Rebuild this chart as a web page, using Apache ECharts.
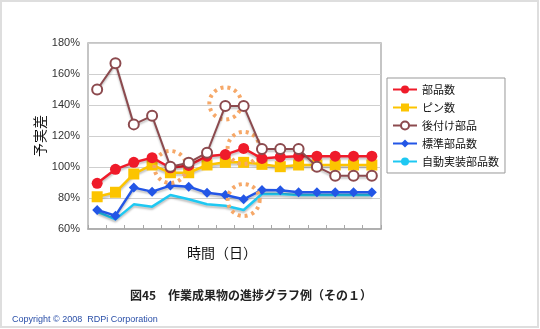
<!DOCTYPE html>
<html><head><meta charset="utf-8">
<script src="https://cdn.jsdelivr.net/npm/echarts@6/dist/echarts.min.js"></script>
<style>html,body{margin:0;padding:0;background:#fff}#c{width:540px;height:329px}</style>
</head><body><div id="c"></div>
<script>
const categories = ['1','2','3','4','5','6','7','8','9','10','11','12','13','14','15','16'];
const partsCount   = [89.5, 98.5, 103, 106, 99.5, 101, 107, 108, 112, 105.5, 106.5, 107, 107, 107, 107, 107];
const pinCount     = [80.8, 83.7, 95.5, 101.3, 96.3, 96.3, 101.3, 103, 103, 101.7, 100.2, 101.3, 101.3, 101.3, 101.3, 101.3];
const retrofit     = [150, 167, 127.5, 133, 100.2, 102.8, 109.2, 139.4, 139.4, 111.6, 111.6, 111.6, 100.2, 94.4, 94.4, 94.4];
const standard     = [72.3, 68.6, 86.7, 84.1, 88, 87.3, 83.4, 81.9, 79.2, 85.2, 85, 83.7, 83.7, 83.7, 83.7, 83.7];
const autoMount    = [71.2, 66.2, 75.9, 74.4, 81.9, 79.2, 76, 75, 72.3, 82.6, 82.6, 81.9, 81.9, 81.9, 81.9, 81.9];
const seriesNames  = ['部品数','ピン数','後付け部品','標準部品数','自動実装部品数'];
const yTicks       = [60, 80, 100, 120, 140, 160, 180];
const highlightIdx = [4, 7, 8, 8];
const highlightVal = [100, 141, 112.3, 78.7];

const chart = echarts.init(document.getElementById('c'));
const shadow = {shadowColor:'rgba(0,0,0,0.25)', shadowOffsetY:2, shadowBlur:2};
const marks = highlightIdx.map((i,k)=>({coord:[i, highlightVal[k]]}));
chart.setOption({
  animation:false,
  backgroundColor:'#fff',
  graphic:[{type:'rect', shape:{x:1,y:1,width:537,height:326}, style:{fill:'none', stroke:'#dedede', lineWidth:2}, silent:true}],
  title:[
    {text:'時間（日）', left:217, top:241, textAlign:'center', textStyle:{fontFamily:'Noto Sans CJK JP', fontSize:14, fontWeight:'normal', color:'#111'}},
    {text:'図45　作業成果物の進捗グラフ例（その１）', left:246, top:284, textAlign:'center', textStyle:{fontFamily:'Noto Sans CJK JP', fontSize:12, fontWeight:'bold', color:'#222'}},
    {text:'Copyright © 2008  RDPi Corporation', left:7, top:310, textStyle:{fontFamily:'Liberation Sans', fontSize:9, fontWeight:'normal', color:'#2a4fa8'}}
  ],
  grid:{left:88, top:43, width:293, height:186, show:true, borderColor:'#b3b3b3', borderWidth:1.5, backgroundColor:'#fff'},
  legend:{
    orient:'vertical', left:387, top:78, data:seriesNames,
    backgroundColor:'#fff', borderColor:'#999', borderWidth:1, padding:[6,6,6,5],
    itemWidth:24, itemHeight:10, itemGap:7,
    textStyle:{fontFamily:'Noto Sans CJK JP', fontSize:11, color:'#111'}
  },
  xAxis:{type:'category', data:categories, boundaryGap:true,
    axisLine:{show:true, lineStyle:{color:'#a8a8a8', width:1.5}},
    axisTick:{show:true, inside:true, length:4, lineStyle:{color:'#a8a8a8'}},
    axisLabel:{show:false}, splitLine:{show:false}},
  yAxis:{type:'value', min:yTicks[0], max:yTicks[yTicks.length-1], interval:20,
    name:'予実差', nameLocation:'middle', nameGap:41, nameRotate:90, nameMoveOverlap:false,
    nameTextStyle:{fontFamily:'Noto Sans CJK JP', fontSize:14, color:'#111'},
    axisLine:{show:false}, axisTick:{show:false},
    axisLabel:{formatter:'{value}%', fontFamily:'Liberation Sans Narrow, Liberation Sans', fontSize:11, color:'#333', margin:8},
    splitLine:{lineStyle:{color:'#cfcfcf', width:1}}},
  series:[
    {name:seriesNames[0], type:'line', data:partsCount, symbol:'circle', symbolSize:11,
      itemStyle:{color:'#ef1b2a'}, lineStyle:Object.assign({width:2.5, color:'#ef1b2a'}, shadow), z:5,
      markPoint:{symbol:'circle', symbolSize:32, silent:true, label:{show:false},
        itemStyle:{color:'rgba(0,0,0,0)', borderColor:'#f6a868', borderWidth:4, borderType:[3,4]},
        data:marks}},
    {name:seriesNames[1], type:'line', data:pinCount, symbol:'rect', symbolSize:11,
      itemStyle:{color:'#fcc400'}, lineStyle:Object.assign({width:2.5, color:'#fcc400'}, shadow), z:4},
    {name:seriesNames[2], type:'line', data:retrofit, symbol:'emptyCircle', symbolSize:10,
      itemStyle:{color:'#8c4a4e', borderWidth:1.5, borderColor:'#9b5a5e'}, lineStyle:Object.assign({width:2, color:'#8c4a4e'}, shadow), z:6},
    {name:seriesNames[3], type:'line', data:standard, symbol:'diamond', symbolSize:10,
      itemStyle:{color:'#2356e6'}, lineStyle:Object.assign({width:2.5, color:'#2356e6'}, shadow), z:4},
    {name:seriesNames[4], type:'line', data:autoMount, symbol:'none',
      itemStyle:{color:'#1ec8f2'}, lineStyle:Object.assign({width:2.5, color:'#1ec8f2'}, shadow), z:3}
  ]
});
</script></body></html>
